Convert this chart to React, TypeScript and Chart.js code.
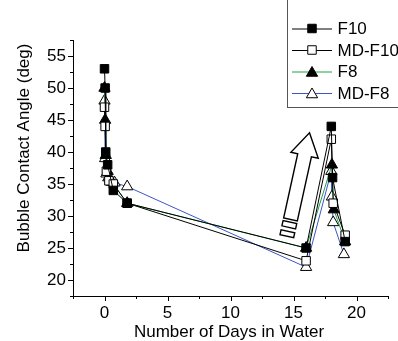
import React, { useEffect, useRef } from "react";
import { Chart, registerables } from "chart.js";

Chart.register(...registerables);

// ---- data ----
const DAYS_F10 = [0, 0.05, 0.1, 0.25, 0.7, 1.8, 16, 18, 18.1, 19.1];
const ANGLE_F10 = [53, 50, 40, 38, 34, 32, 25, 44, 36, 26];

const DAYS_MDF10 = [0, 0.05, 0.15, 0.35, 0.7, 1.8, 16, 18, 18.15, 19.1];
const ANGLE_MDF10 = [47, 44, 37, 35.5, 35, 32, 23, 42, 32, 27];

const DAYS_F8 = [0, 0.05, 0.1, 0.25, 0.6, 1.8, 16, 18.05, 18.2, 19.1];
const ANGLE_F8 = [50, 45, 39.5, 37, 35.3, 32, 25, 38, 31, 26];

const DAYS_MDF8 = [0, 0.05, 0.15, 0.3, 0.8, 1.8, 16, 18, 18.05, 18.15, 19];
const ANGLE_MDF8 = [48, 39, 36.6, 36, 35.2, 34.6, 22, 37, 33, 29, 24];

const SERIES_NAMES = ["F10", "MD-F10", "F8", "MD-F8"];
const SERIES_COLORS = ["#000000", "#000000", "#1fa04a", "#3d55c4"];
const SERIES_FILLED = [true, false, true, false];
const SERIES_SHAPES = ["rect", "rect", "triangle", "triangle"];
const SERIES_RADII = [6, 6, 6.5, 6.5];

const X_TICK_LABELS = [0, 5, 10, 15, 20];
const Y_TICK_LABELS = [20, 25, 30, 35, 40, 45, 50, 55];

const X_TITLE = "Number of Days in Water";
const Y_TITLE = "Bubble Contact Angle (deg)";

// decorative arrow (data coordinates of tail and tip)
const ARROW_BASE = { day: 14.76, angle: 29.45 };
const ARROW_TIP = { day: 16.27, angle: 43.0 };

const FONT = "17px 'Liberation Sans', Arial, sans-serif";

function drawMarker(ctx: CanvasRenderingContext2D, shape: string, x: number, y: number, r: number, filled: boolean) {
  ctx.beginPath();
  if (shape === "rect") {
    const s = Math.SQRT1_2 * r;
    ctx.rect(x - s, y - s, 2 * s, 2 * s);
  } else {
    ctx.moveTo(x, y - r);
    ctx.lineTo(x + 0.866 * r, y + 0.5 * r);
    ctx.lineTo(x - 0.866 * r, y + 0.5 * r);
    ctx.closePath();
  }
  ctx.fillStyle = filled ? "#000" : "#fff";
  ctx.fill();
  ctx.strokeStyle = "#000";
  ctx.lineWidth = 1;
  ctx.stroke();
}

const arrowPlugin = {
  id: "arrowDeco",
  beforeDatasetsDraw(chart: any) {
    const { ctx, scales } = chart;
    const bx = scales.x.getPixelForValue(ARROW_BASE.day);
    const by = scales.y.getPixelForValue(ARROW_BASE.angle);
    const tx = scales.x.getPixelForValue(ARROW_TIP.day);
    const ty = scales.y.getPixelForValue(ARROW_TIP.angle);
    const L = Math.hypot(tx - bx, ty - by);
    const ux = (tx - bx) / L, uy = (ty - by) / L;
    const nx = -uy, ny = ux;
    const headLen = 23, headHalf = 14, shaftHalf = 7;
    const hbx = tx - ux * headLen, hby = ty - uy * headLen;
    ctx.save();
    ctx.strokeStyle = "#000";
    ctx.lineWidth = 1.4;
    ctx.fillStyle = "#fff";
    ctx.beginPath();
    ctx.moveTo(tx, ty);
    ctx.lineTo(hbx + nx * headHalf, hby + ny * headHalf);
    ctx.lineTo(hbx + nx * shaftHalf, hby + ny * shaftHalf);
    ctx.lineTo(bx + nx * shaftHalf, by + ny * shaftHalf);
    ctx.lineTo(bx - nx * shaftHalf, by - ny * shaftHalf);
    ctx.lineTo(hbx - nx * shaftHalf, hby - ny * shaftHalf);
    ctx.lineTo(hbx - nx * headHalf, hby - ny * headHalf);
    ctx.closePath();
    ctx.fill();
    ctx.stroke();
    const segs = [[2.5, 8], [12, 17]];
    for (const [a, b] of segs) {
      const ax = bx - ux * a, ay = by - uy * a;
      const cx = bx - ux * b, cy = by - uy * b;
      ctx.beginPath();
      ctx.moveTo(ax + nx * shaftHalf, ay + ny * shaftHalf);
      ctx.lineTo(cx + nx * shaftHalf, cy + ny * shaftHalf);
      ctx.lineTo(cx - nx * shaftHalf, cy - ny * shaftHalf);
      ctx.lineTo(ax - nx * shaftHalf, ay - ny * shaftHalf);
      ctx.closePath();
      ctx.fill();
      ctx.stroke();
    }
    ctx.restore();
  },
};

const decoPlugin = {
  id: "deco",
  afterDraw(chart: any) {
    const { ctx, chartArea, scales } = chart;
    ctx.save();
    ctx.strokeStyle = "#000";
    ctx.lineWidth = 1;
    // tick marks (major 5px, minor 3px), outward
    for (const t of scales.x.ticks) {
      const px = Math.round(scales.x.getPixelForValue(t.value)) + 0.5;
      const len = t.value % 5 === 0 ? 5 : 3;
      ctx.beginPath();
      ctx.moveTo(px, chartArea.bottom);
      ctx.lineTo(px, chartArea.bottom + len);
      ctx.stroke();
    }
    for (const t of scales.y.ticks) {
      const py = Math.round(scales.y.getPixelForValue(t.value)) + 0.5;
      const len = t.value % 5 === 0 ? 5 : 3;
      ctx.beginPath();
      ctx.moveTo(chartArea.left, py);
      ctx.lineTo(chartArea.left - len, py);
      ctx.stroke();
    }
    // axis titles
    ctx.fillStyle = "#000";
    ctx.font = FONT;
    ctx.textAlign = "center";
    ctx.textBaseline = "middle";
    ctx.fillText(X_TITLE, 229, 332);
    ctx.save();
    ctx.translate(24, 148);
    ctx.rotate(-Math.PI / 2);
    ctx.fillText(Y_TITLE, 0, 0);
    ctx.restore();

    // legend
    const lx = 287.5, ly = -2, lw = 130, lh = 109.5;
    ctx.fillStyle = "#fff";
    ctx.fillRect(lx, ly, lw, lh);
    ctx.strokeStyle = "#555";
    ctx.strokeRect(lx, ly, lw, lh);
    const rowY = [28.5, 50, 71.5, 93];
    SERIES_NAMES.forEach((name, i) => {
      const y = rowY[i];
      ctx.strokeStyle = SERIES_COLORS[i];
      ctx.lineWidth = 1;
      ctx.beginPath();
      ctx.moveTo(292, y + 0.5);
      ctx.lineTo(332, y + 0.5);
      ctx.stroke();
      drawMarker(ctx, SERIES_SHAPES[i], 312, SERIES_SHAPES[i] === "triangle" ? y + 1.5 : y, SERIES_RADII[i], SERIES_FILLED[i]);
      ctx.fillStyle = "#000";
      ctx.font = FONT;
      ctx.textAlign = "left";
      ctx.textBaseline = "middle";
      ctx.fillText(name, 337.5, y + 1);
    });
    ctx.restore();
  },
};

function toPoints(days: number[], vals: number[]) {
  return days.map((d, i) => ({ x: d, y: vals[i] }));
}

export default function App() {
  const ref = useRef<HTMLCanvasElement | null>(null);
  useEffect(() => {
    if (!ref.current) return;
    const dayArrays = [DAYS_F10, DAYS_MDF10, DAYS_F8, DAYS_MDF8];
    const valArrays = [ANGLE_F10, ANGLE_MDF10, ANGLE_F8, ANGLE_MDF8];
    const datasets = SERIES_NAMES.map((name, i) => ({
      label: name,
      data: toPoints(dayArrays[i], valArrays[i]),
      showLine: true,
      borderColor: SERIES_COLORS[i],
      borderWidth: 1,
      pointStyle: SERIES_SHAPES[i],
      pointRadius: SERIES_RADII[i],
      pointBorderWidth: 1,
      pointBorderColor: "#000",
      pointBackgroundColor: SERIES_FILLED[i] ? "#000" : "#fff",
      tension: 0,
    }));
    const chart = new Chart(ref.current, {
      type: "scatter",
      data: { datasets },
      options: {
        animation: false,
        responsive: false,
        devicePixelRatio: 1,
        layout: { padding: { top: 40, right: 10, left: 0, bottom: 0 } },
        plugins: { legend: { display: false }, tooltip: { enabled: false } },
        scales: {
          x: {
            type: "linear",
            min: -2.5,
            max: 22.5,
            afterFit: (s: any) => { s.height = 45; },
            grid: { display: false, drawTicks: true, tickLength: 5 },
            border: { display: true, color: "#000", width: 1 },
            ticks: {
              stepSize: 2.5,
              autoSkip: false,
              maxRotation: 0,
              padding: 2,
              color: "#000",
              font: { family: "'Liberation Sans', Arial, sans-serif", size: 17 },
              callback: (v: any) => (X_TICK_LABELS.includes(Number(v)) ? String(v) : ""),
            },
          },
          y: {
            type: "linear",
            min: 17.5,
            max: 57.5,
            afterFit: (s: any) => { s.width = 73; },
            grid: { display: false, drawTicks: true, tickLength: 5 },
            border: { display: true, color: "#000", width: 1 },
            ticks: {
              stepSize: 2.5,
              autoSkip: false,
              padding: 2,
              color: "#000",
              font: { family: "'Liberation Sans', Arial, sans-serif", size: 17 },
              callback: (v: any) => (Y_TICK_LABELS.includes(Number(v)) ? String(v) : ""),
            },
          },
        },
      },
      plugins: [arrowPlugin, decoPlugin],
    } as any);
    return () => chart.destroy();
  }, []);
  return (
    <div style={{ position: "fixed", left: 0, top: 0, width: 398, height: 341, background: "#fff" }}>
      <canvas ref={ref} width={398} height={341} style={{ display: "block" }} />
    </div>
  );
}
